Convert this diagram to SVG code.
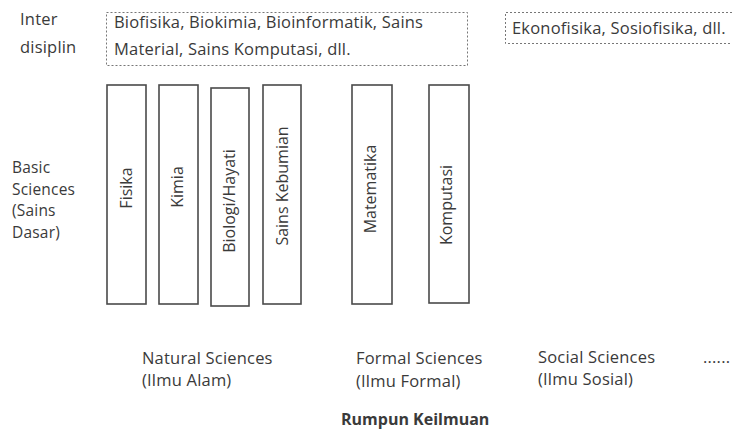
<svg xmlns="http://www.w3.org/2000/svg" width="732" height="430" viewBox="0 0 732 430">
<style>
text{font-family:"Open Sans","Liberation Sans",Arial,sans-serif;font-size:16.5px;letter-spacing:0.2px;fill:#3a3a3a}
.b{font-weight:bold;font-size:16px;letter-spacing:0}
.s{font-size:15.5px}
.dash{fill:none;stroke:#777;stroke-width:1;stroke-dasharray:2 2}
.col{fill:#fff;stroke:#4a4a4a;stroke-width:1.6}
.v{text-anchor:middle;dominant-baseline:central;font-size:16px;letter-spacing:0}
</style>
<rect width="732" height="430" fill="#fff"/>
<g id="label-inter">
<text x="20" y="25">Inter</text>
<text x="20" y="53">disiplin</text>
</g>
<g id="inter-natural">
<rect class="dash" x="106.5" y="12.5" width="361" height="53"/>
<text x="114" y="28">Biofisika, Biokimia, Bioinformatik, Sains</text>
<text x="114" y="55">Material, Sains Komputasi, dll.</text>
</g>
<g id="inter-social">
<path class="dash" d="M740 12.5 H505.5 V43.5 H740"/>
<text x="512" y="34">Ekonofisika, Sosiofisika, dll.</text>
</g>
<g id="label-basic">
<text class="s" x="12" y="173">Basic</text>
<text class="s" x="12" y="195">Sciences</text>
<text class="s" x="12" y="216">(Sains</text>
<text class="s" x="12" y="238">Dasar)</text>
</g>
<g id="fisika">
<rect class="col" x="107" y="85" width="39" height="219"/>
<text class="v" transform="translate(126,188) rotate(-90)">Fisika</text>
</g>
<g id="kimia">
<rect class="col" x="159" y="85" width="39" height="219"/>
<text class="v" transform="translate(177,187) rotate(-90)">Kimia</text>
</g>
<g id="biologi">
<rect class="col" x="211" y="88" width="38" height="218"/>
<text class="v" transform="translate(229,201) rotate(-90)">Biologi/Hayati</text>
</g>
<g id="kebumian">
<rect class="col" x="263" y="85" width="38" height="219"/>
<text class="v" transform="translate(282,186) rotate(-90)">Sains Kebumian</text>
</g>
<g id="matematika">
<rect class="col" x="352" y="85" width="40" height="219"/>
<text class="v" transform="translate(370,189) rotate(-90)">Matematika</text>
</g>
<g id="komputasi">
<rect class="col" x="429" y="85" width="40" height="218"/>
<text class="v" transform="translate(446,205) rotate(-90)">Komputasi</text>
</g>
<g id="natural">
<text x="142" y="364">Natural Sciences</text>
<text x="142" y="386">(Ilmu Alam)</text>
</g>
<g id="formal">
<text x="356" y="364">Formal  Sciences</text>
<text x="356" y="387">(Ilmu Formal)</text>
</g>
<g id="social">
<text x="538" y="363">Social  Sciences</text>
<text x="538" y="385">(Ilmu Sosial)</text>
</g>
<g id="more">
<text x="703" y="363">......</text>
</g>
<g id="rumpun">
<text class="b" x="341" y="425">Rumpun Keilmuan</text>
</g>
<g id="connectors"></g>
</svg>
